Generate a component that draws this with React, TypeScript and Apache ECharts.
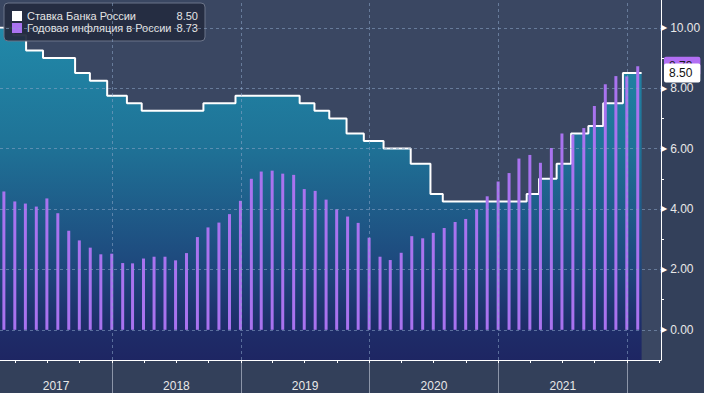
import React, { useEffect, useRef } from 'react';
import * as echarts from 'echarts';

// ---- Data ----
const RATE_NAME = 'Ставка Банка России';
const INFL_NAME = 'Годовая инфляция в России';

const RATE_DATES = [
  '2016-09-19', '2017-03-27', '2017-05-02', '2017-06-19', '2017-09-18', '2017-10-30',
  '2017-12-18', '2018-02-12', '2018-03-26', '2018-09-17', '2018-12-17', '2019-06-17',
  '2019-07-29', '2019-09-09', '2019-10-28', '2019-12-16', '2020-02-10', '2020-04-27',
  '2020-06-22', '2020-07-27', '2021-03-22', '2021-04-26', '2021-06-15', '2021-07-26',
  '2021-09-13', '2021-10-25', '2021-12-20', '2022-02-11',
];
const RATE_VALUES = [
  10.0, 9.75, 9.25, 9.0, 8.5, 8.25,
  7.75, 7.5, 7.25, 7.5, 7.75, 7.5,
  7.25, 7.0, 6.5, 6.25, 6.0, 5.5,
  4.5, 4.25, 4.5, 5.0, 5.5, 6.5,
  6.75, 7.5, 8.5, 8.5,
];

const INFL_MONTHS = [
  '2017-02', '2017-03', '2017-04', '2017-05', '2017-06', '2017-07', '2017-08', '2017-09', '2017-10', '2017-11', '2017-12',
  '2018-01', '2018-02', '2018-03', '2018-04', '2018-05', '2018-06', '2018-07', '2018-08', '2018-09', '2018-10', '2018-11', '2018-12',
  '2019-01', '2019-02', '2019-03', '2019-04', '2019-05', '2019-06', '2019-07', '2019-08', '2019-09', '2019-10', '2019-11', '2019-12',
  '2020-01', '2020-02', '2020-03', '2020-04', '2020-05', '2020-06', '2020-07', '2020-08', '2020-09', '2020-10', '2020-11', '2020-12',
  '2021-01', '2021-02', '2021-03', '2021-04', '2021-05', '2021-06', '2021-07', '2021-08', '2021-09', '2021-10', '2021-11', '2021-12',
  '2022-01',
];
const INFL_VALUES = [
  4.58, 4.25, 4.18, 4.08, 4.35, 3.86, 3.28, 2.96, 2.72, 2.50, 2.52,
  2.21, 2.20, 2.36, 2.42, 2.42, 2.30, 2.54, 3.07, 3.39, 3.55, 3.83, 4.27,
  5.00, 5.24, 5.27, 5.17, 5.13, 4.66, 4.60, 4.31, 3.99, 3.75, 3.54, 3.05,
  2.42, 2.31, 2.55, 3.10, 3.03, 3.21, 3.37, 3.57, 3.67, 3.99, 4.42, 4.91,
  5.19, 5.67, 5.79, 5.53, 6.02, 6.50, 6.46, 6.68, 7.41, 8.13, 8.40, 8.39,
  8.73,
];

const YEAR_LABELS = ['2017', '2018', '2019', '2020', '2021'];
const YEAR_STARTS = ['2018-01-01', '2019-01-01', '2020-01-01', '2021-01-01', '2022-01-01'];
const Y_TICKS = [0, 2, 4, 6, 8, 10];
const Y_MINOR_TICKS = [1, 3, 5, 7, 9];
const X_MIN = '2017-02-17';
const X_MAX = '2022-04-07';
const Y_MIN = -1;
const Y_MAX = 10.92;

const FONT = '"Liberation Sans", Arial, sans-serif';

const ts = (s: string) => Date.parse(s + 'T00:00:00Z');
const monthEnd = (s: string) => {
  const [y, m] = s.split('-').map(Number);
  return Date.UTC(y, m, 0);
};

export default function App() {
  const ref = useRef<HTMLDivElement>(null);

  useEffect(() => {
    if (!ref.current) return;
    const chart = echarts.init(ref.current, undefined, { renderer: 'svg' });

    const xMin = ts(X_MIN);
    const xMax = ts(X_MAX);

    const rateData = RATE_DATES.map((d, i) => [ts(d), RATE_VALUES[i]]);
    const inflData = INFL_MONTHS.map((m, i) => [monthEnd(m), INFL_VALUES[i]]);

    const quarterTicks: number[] = [];
    for (let y = 2017; y <= 2022; y++) {
      for (let q = 0; q < 4; q++) {
        const t = Date.UTC(y, q * 3, 1);
        if (t > xMin && t < xMax) quarterTicks.push(t);
      }
    }
    const yearStartTs = YEAR_STARTS.map(ts);
    const yearLabelPos = YEAR_LABELS.map((y) => {
      const yy = Number(y);
      const s = Math.max(Date.UTC(yy, 0, 1), xMin);
      const e = Math.min(Date.UTC(yy + 1, 0, 1), xMax);
      return (s + e) / 2;
    });

    const lastRate = RATE_VALUES[RATE_VALUES.length - 1];
    const lastInfl = INFL_VALUES[INFL_VALUES.length - 1];
    const legendVals: Record<string, string> = {
      [RATE_NAME]: lastRate.toFixed(2),
      [INFL_NAME]: lastInfl.toFixed(2),
    };

    const gridLineStyle = { color: 'rgba(140,165,200,0.55)', width: 1, type: [3, 3] as any };

    chart.setOption({
      animation: false,
      backgroundColor: '#33405a',
      grid: {
        show: true,
        backgroundColor: '#3a4762',
        borderWidth: 0,
        left: 0,
        top: 0,
        right: 43,
        bottom: 33,
        containLabel: false,
        outerBoundsMode: 'none',
      },
      legend: {
        show: true,
        orient: 'vertical',
        left: 4,
        top: 3,
        icon: 'rect',
        itemWidth: 10,
        itemHeight: 10,
        itemGap: 0,
        padding: [7, 7, 7, 8],
        backgroundColor: 'rgba(36,44,64,0.95)',
        borderColor: '#6b7489',
        borderWidth: 1,
        borderRadius: 4,
        selectedMode: false,
        data: [RATE_NAME, INFL_NAME],
        formatter: (name: string) => `{n|${name}}{v|${legendVals[name]}}`,
        textStyle: {
          color: '#e4e4e4',
          fontFamily: FONT,
          fontSize: 11,
          lineHeight: 12,
          rich: {
            n: { width: 147, fontSize: 11, fontFamily: FONT, color: '#e4e4e4', lineHeight: 12 },
            v: { width: 24, align: 'right', fontSize: 11, fontFamily: FONT, color: '#e4e4e4', lineHeight: 12 },
          },
        },
      },
      xAxis: [
        {
          type: 'value',
          min: xMin,
          max: xMax,
          position: 'bottom',
          z: 6,
          axisLine: { show: true, onZero: false, lineStyle: { color: '#ffffff', width: 1 } },
          axisTick: { show: true, customValues: quarterTicks, length: 3, lineStyle: { color: '#ffffff' } },
          axisLabel: {
            show: true,
            customValues: yearLabelPos,
            margin: 20,
            color: '#e8e8e8',
            fontFamily: FONT,
            fontSize: 12,
            formatter: (v: number) => String(new Date(v).getUTCFullYear()),
          },
          splitLine: { show: false },
        },
        {
          type: 'value',
          min: xMin,
          max: xMax,
          position: 'bottom',
          z: 5,
          axisLine: { show: false, onZero: false },
          axisTick: { show: true, customValues: yearStartTs, length: 33, lineStyle: { color: '#8c95a8', width: 1 } },
          axisLabel: { show: false },
          splitLine: { show: false },
        },
      ],
      yAxis: [
        {
          type: 'value',
          min: Y_MIN,
          max: Y_MAX,
          position: 'right',
          z: 6,
          axisLine: { show: true, onZero: false, lineStyle: { color: '#ffffff', width: 1 } },
          axisTick: { show: true, customValues: Y_MINOR_TICKS, length: 3, lineStyle: { color: '#ffffff' } },
          axisLabel: {
            show: true,
            customValues: Y_TICKS,
            margin: 0,
            formatter: (v: number) => `{a|▶}{b|${v.toFixed(2)}}`,
            rich: {
              a: { fontFamily: '"DejaVu Sans", sans-serif', fontSize: 8, color: '#ffffff', padding: [0, 3, 0, 0] },
              b: { fontFamily: FONT, fontSize: 12, color: '#e8e8e8' },
            },
          },
          splitLine: { show: false },
        },
        {
          type: 'value',
          min: Y_MIN,
          max: Y_MAX,
          position: 'right',
          z: 7,
          axisLine: { show: false, onZero: false },
          axisTick: { show: false },
          splitLine: { show: false },
          axisLabel: {
            show: true,
            customValues: [lastInfl],
            margin: 3,
            formatter: (v: number) => v.toFixed(2),
            backgroundColor: '#b26ff4',
            color: '#1a1a1a',
            fontFamily: FONT,
            fontSize: 12,
            lineHeight: 13,
            padding: [3, 8, 3, 5],
            borderRadius: 2,
          },
        },
        {
          type: 'value',
          min: Y_MIN,
          max: Y_MAX,
          position: 'right',
          z: 8,
          axisLine: { show: false, onZero: false },
          axisTick: { show: false },
          splitLine: { show: false },
          axisLabel: {
            show: true,
            customValues: [lastRate],
            margin: 3,
            formatter: (v: number) => v.toFixed(2),
            backgroundColor: '#ffffff',
            color: '#111111',
            fontFamily: FONT,
            fontSize: 12,
            lineHeight: 13,
            padding: [3, 8, 3, 5],
            borderRadius: 2,
          },
        },
      ],
      series: [
        {
          name: RATE_NAME,
          type: 'line',
          step: 'end',
          data: rateData,
          symbol: 'none',
          z: 2,
          itemStyle: { color: '#ffffff' },
          lineStyle: { color: '#ffffff', width: 2 },
          areaStyle: {
            origin: 'start',
            opacity: 1,
            color: new echarts.graphic.LinearGradient(0, 0, 0, 1, [
              { offset: 0, color: '#2189a9' },
              { offset: 0.35, color: '#1f7397' },
              { offset: 0.7, color: '#1e4a7e' },
              { offset: 0.9, color: '#1e2d69' },
              { offset: 1, color: '#1e2663' },
            ]),
          },
          markLine: {
            silent: true,
            z: 5,
            symbol: ['none', 'none'],
            label: { show: false },
            lineStyle: gridLineStyle,
            data: [
              ...Y_TICKS.map((v) => ({ yAxis: v })),
              ...yearStartTs.map((t) => ({ xAxis: t })),
            ],
          },
        },
        {
          name: INFL_NAME,
          type: 'bar',
          data: inflData,
          barWidth: 3,
          z: 3,
          itemStyle: { color: '#a973ef' },
        },
      ],
    });

    return () => chart.dispose();
  }, []);

  return <div ref={ref} style={{ position: 'absolute', left: 0, top: 0, width: 704, height: 393 }} />;
}
